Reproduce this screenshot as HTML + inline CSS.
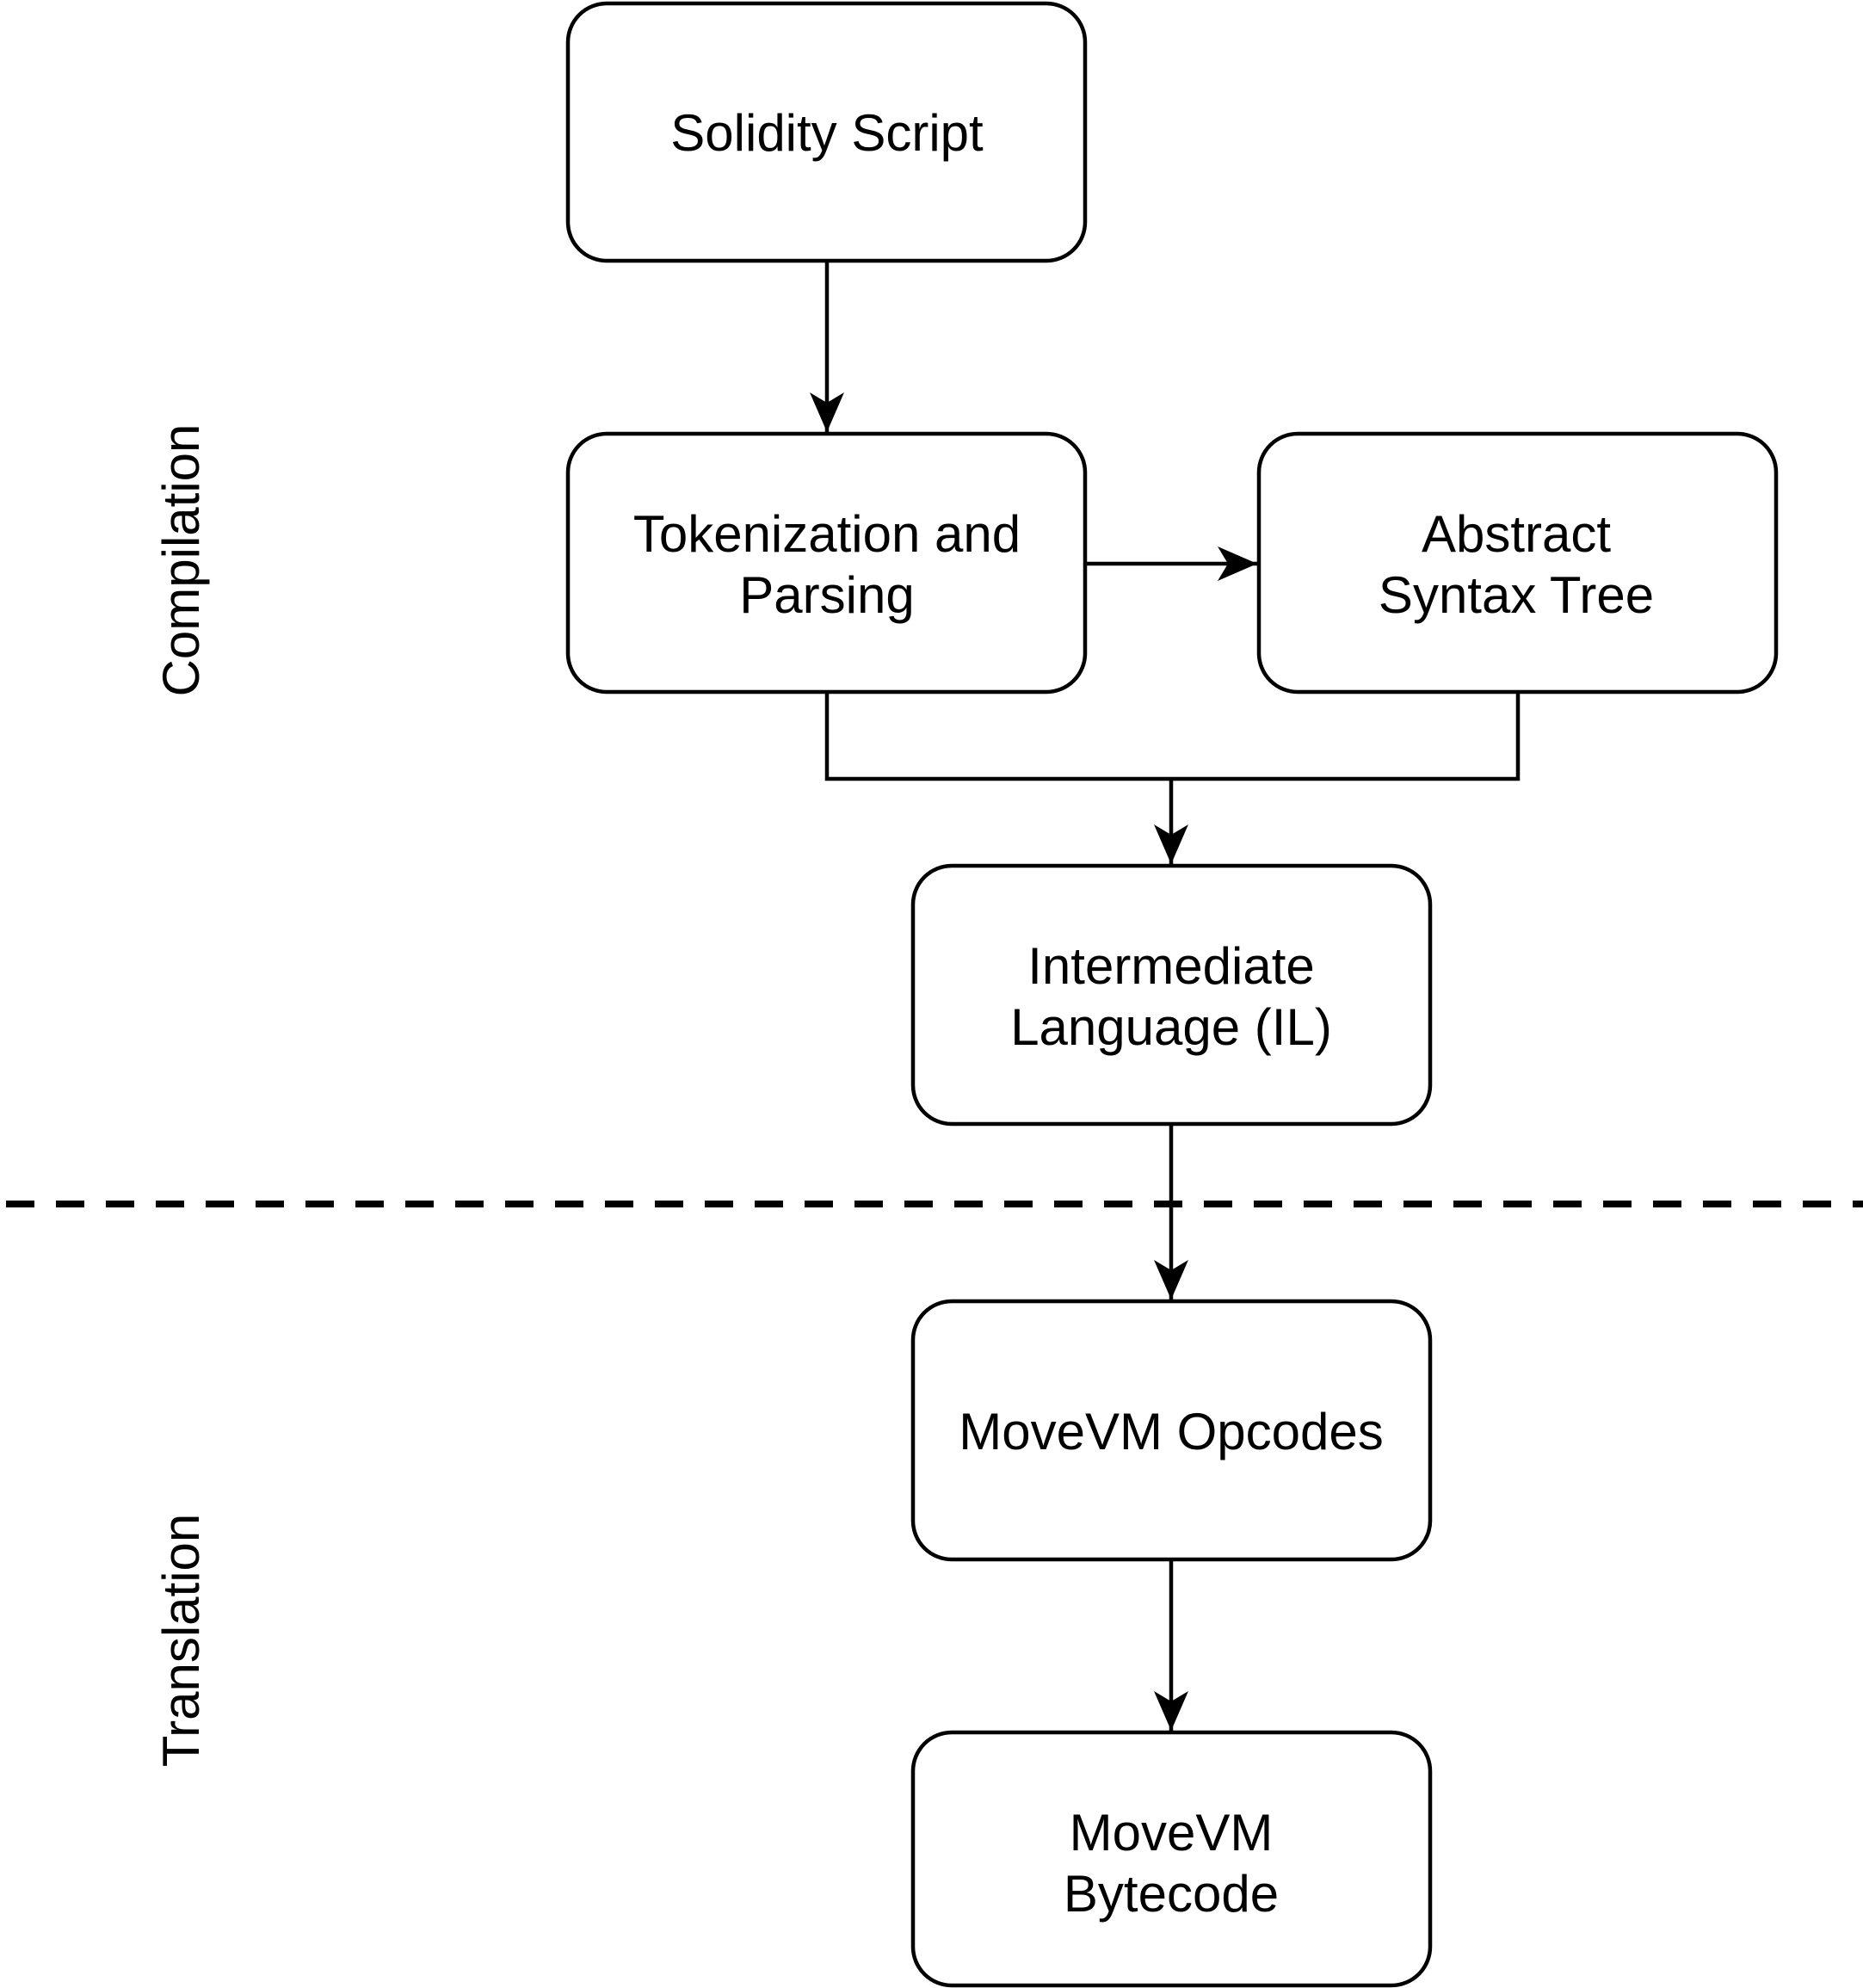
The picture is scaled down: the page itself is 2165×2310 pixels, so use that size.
<!DOCTYPE html>
<html><head><style>
html,body{margin:0;padding:0;background:#fff;}
svg{display:block;}
text{font-family:"Liberation Sans",Helvetica,Arial,sans-serif;font-size:60px;fill:#000;}
</style></head><body>
<svg width="2165" height="2310" viewBox="0 0 2165 2310" xmlns="http://www.w3.org/2000/svg">
<defs>
<marker id="a" markerUnits="userSpaceOnUse" markerWidth="54" markerHeight="44" refX="46" refY="22" orient="auto">
<path d="M0,2 L46,22 L0,42 L12,22 Z" fill="#000"/>
</marker>
</defs>
<g fill="none" stroke="#000" stroke-width="4.5">
<rect x="660" y="4" width="601" height="299" rx="45"/>
<rect x="660" y="504" width="601" height="300" rx="45"/>
<rect x="1463" y="504" width="601" height="300" rx="45"/>
<rect x="1061" y="1006" width="601" height="300" rx="45"/>
<rect x="1061" y="1512" width="601" height="300" rx="45"/>
<rect x="1061" y="2013" width="601" height="294" rx="45"/>
<line x1="961" y1="303" x2="961" y2="502" marker-end="url(#a)"/>
<line x1="1261" y1="655" x2="1461" y2="655" marker-end="url(#a)"/>
<polyline points="961,804 961,905 1764,905 1764,804"/>
<line x1="1361" y1="905" x2="1361" y2="1004" marker-end="url(#a)"/>
<line x1="1361" y1="1306" x2="1361" y2="1510" marker-end="url(#a)"/>
<line x1="1361" y1="1812" x2="1361" y2="2011" marker-end="url(#a)"/>
<line x1="7" y1="1399" x2="2165" y2="1399" stroke-width="8" stroke-dasharray="33 25"/>
</g>
<g text-anchor="middle">
<text x="961" y="175">Solidity Script</text>
<text x="961" y="641">Tokenization and</text>
<text x="961" y="712">Parsing</text>
<text x="1762" y="641">Abstract</text>
<text x="1762" y="712">Syntax Tree</text>
<text x="1361" y="1143">Intermediate</text>
<text x="1361" y="1214">Language (IL)</text>
<text x="1361" y="1684">MoveVM Opcodes</text>
<text x="1361" y="2150">MoveVM</text>
<text x="1361" y="2221">Bytecode</text>
<text transform="translate(231,651) rotate(-90)">Compilation</text>
<text transform="translate(231,1906) rotate(-90)">Translation</text>
</g>
</svg>
</body></html>
